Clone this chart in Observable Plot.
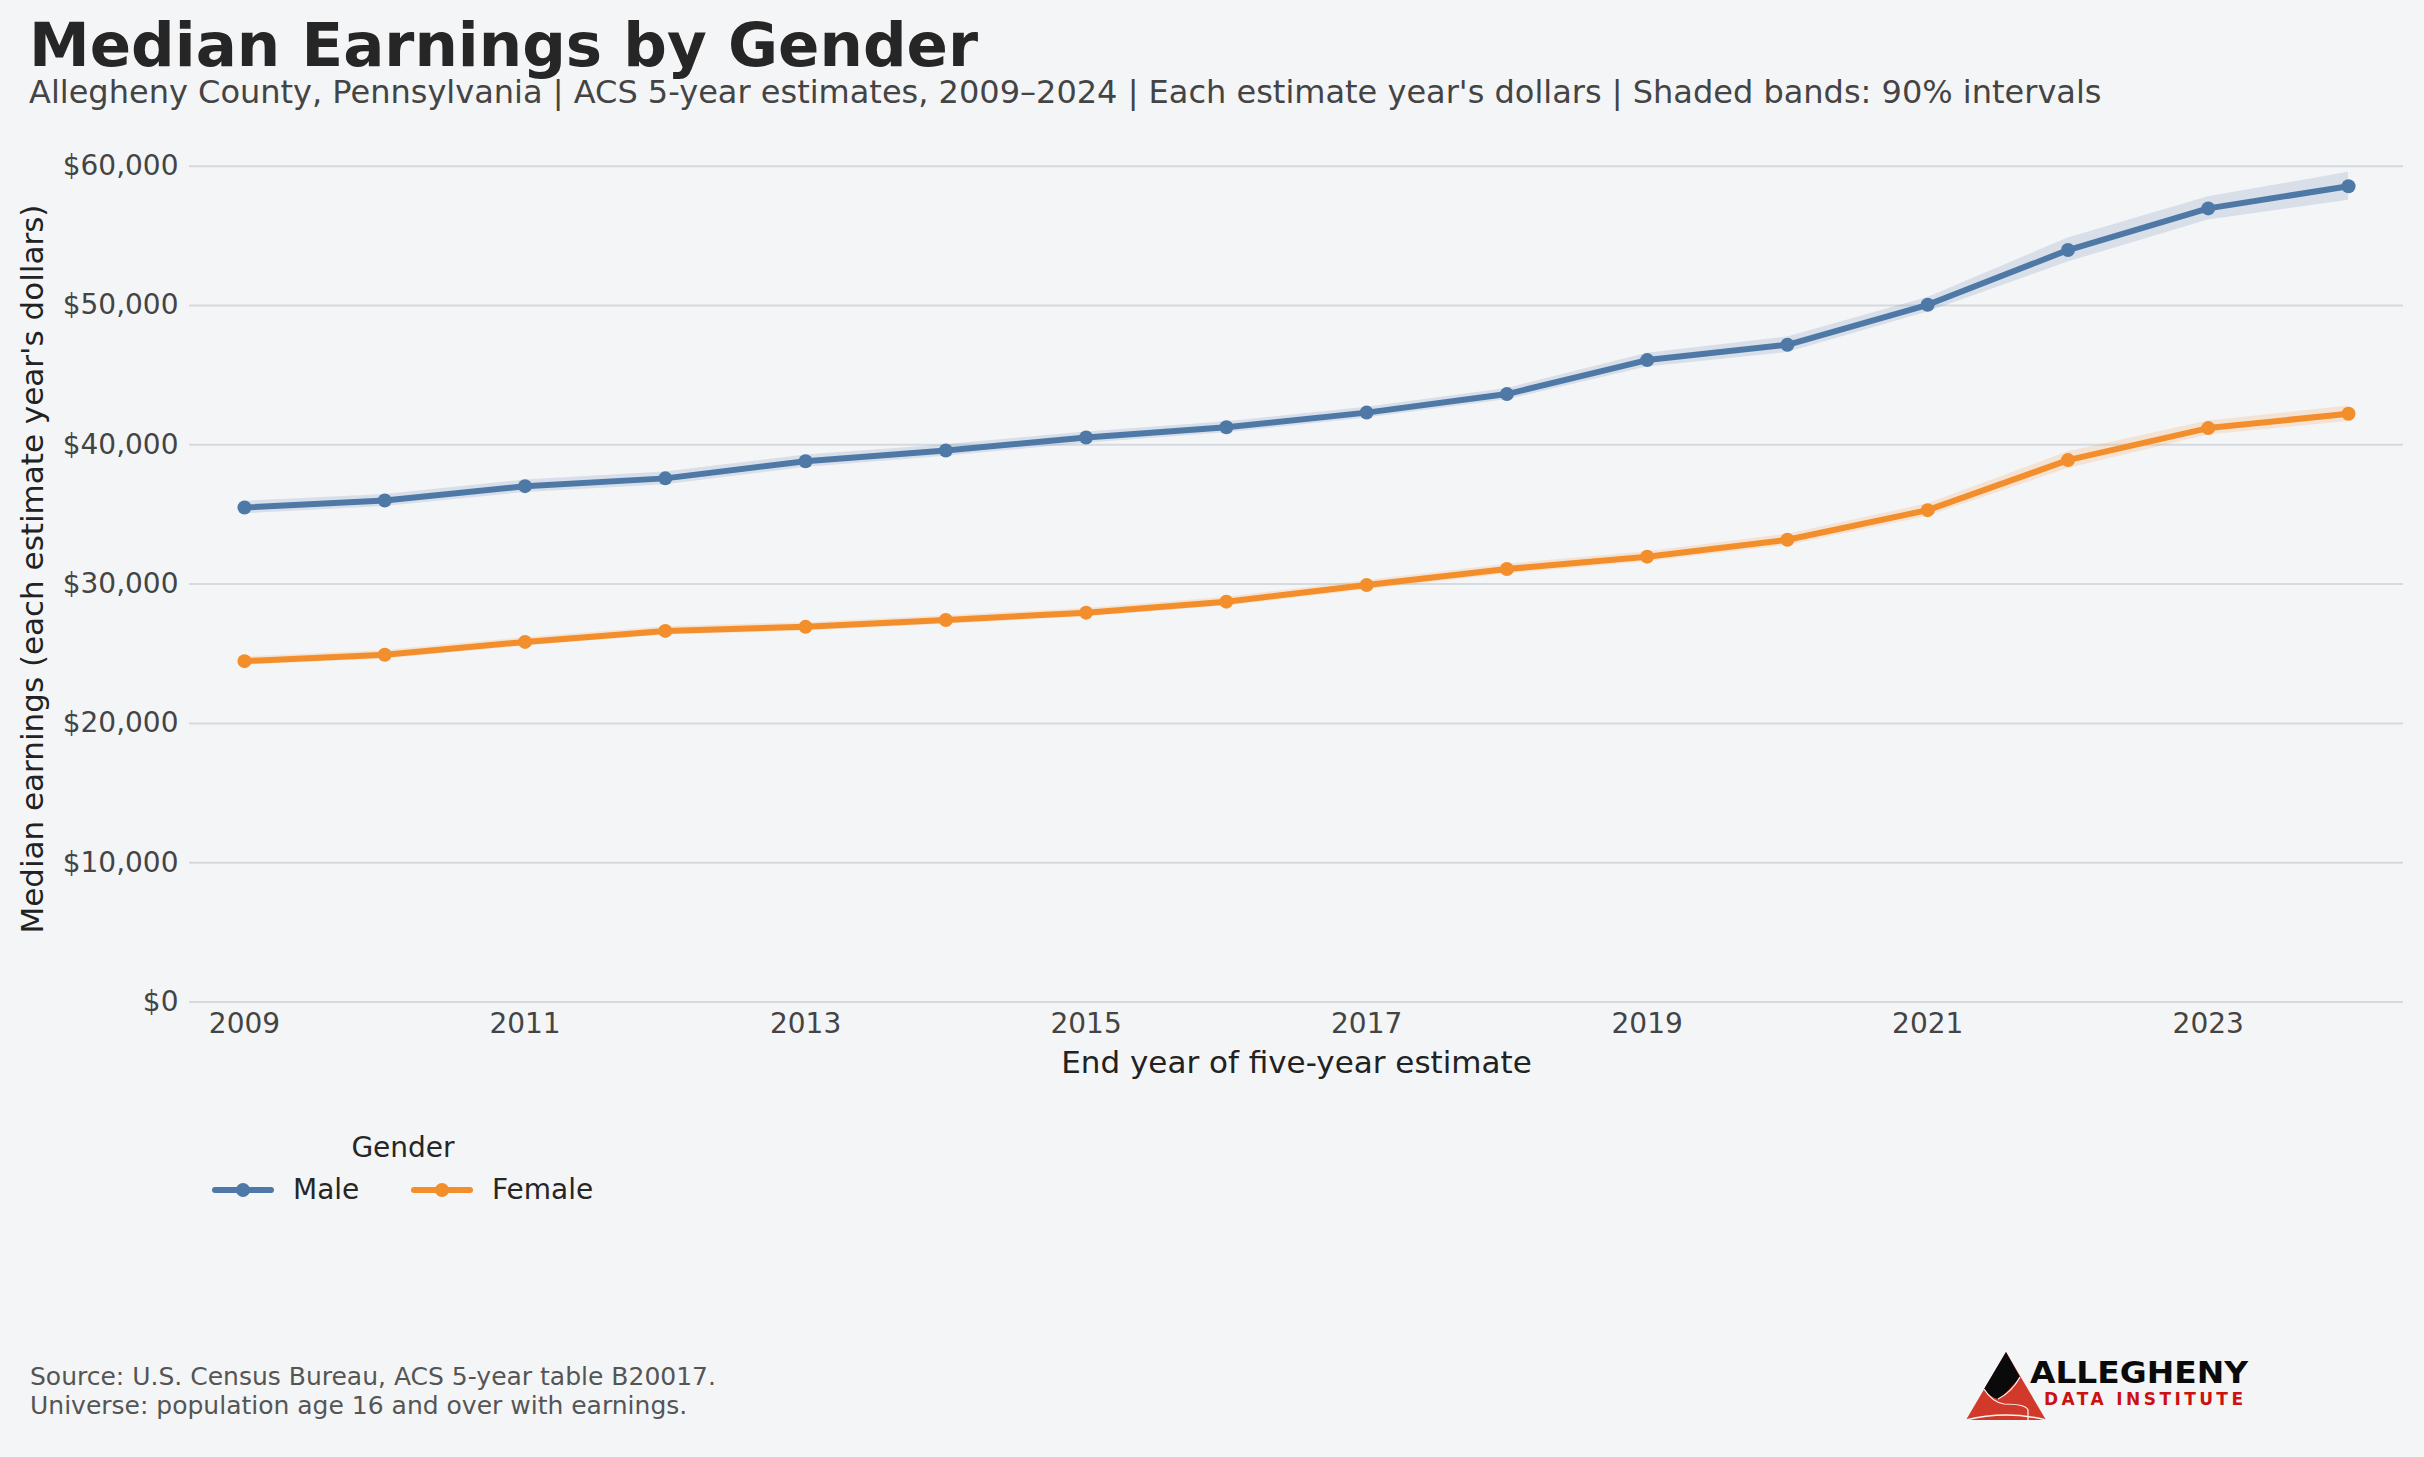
<!DOCTYPE html>
<html>
<head>
<meta charset="utf-8">
<script src="https://cdn.jsdelivr.net/npm/d3@7"></script>
<script src="https://cdn.jsdelivr.net/npm/@observablehq/plot@0.6"></script>
<style>
  html, body { margin: 0; padding: 0; background: #f4f5f7; }
  body { width: 2424px; height: 1457px; position: relative; overflow: hidden; font-family: "DejaVu Sans", sans-serif; }
  .abs { position: absolute; line-height: 1; white-space: nowrap; }
  #title { left: 29px; top: 14px; font-size: 61px; font-weight: bold; color: #262626; }
  #subtitle { left: 29px; top: 76px; font-size: 32px; color: #444; }
  #chart { position: absolute; left: 0; top: 130px; }
  #legend-title { left: 403px; top: 1134px; font-size: 28px; color: #262626; transform: translateX(-50%); }
  .leg { top: 1176px; font-size: 28px; color: #262626; }
  .sw { position: absolute; top: 1182px; }
  #caption { left: 30px; top: 1362px; font-size: 25px; color: #555; line-height: 29px; }
  #logo { position: absolute; left: 1960px; top: 1345px; }
</style>
</head>
<body>
<div id="title" class="abs">Median Earnings by Gender</div>
<div id="subtitle" class="abs">Allegheny County, Pennsylvania | ACS 5-year estimates, 2009–2024 | Each estimate year's dollars | Shaded bands: 90% intervals</div>
<div id="chart"></div>
<div id="legend"></div>
<div id="caption" class="abs">Source: U.S. Census Bureau, ACS 5-year table B20017.<br>Universe: population age 16 and over with earnings.</div>
<svg id="logo" width="300" height="80" viewBox="1960 1345 300 80">
  <polygon points="1966,1420 2006,1352 2046,1420" fill="#d13a2a"/>
  <path d="M2006,1352 L2020,1377 Q2005,1395 1998,1399 Q1990,1397 1984,1389 Z" fill="#0a0a0a"/>
  <path d="M1984,1389 Q1992,1402 2004,1404 Q2026,1404 2028,1410 L2028,1420" fill="none" stroke="#f4f5f7" stroke-width="1.2"/>
  <path d="M1998,1399 Q2012,1392 2020,1377" fill="none" stroke="#f4f5f7" stroke-width="1.2"/>
  <path d="M1966,1420 Q2006,1410 2046,1420" fill="none" stroke="#f4f5f7" stroke-width="1.5"/>
  <text x="2030" y="1383" font-family="DejaVu Sans" font-weight="bold" font-size="31" fill="#0a0a0a" textLength="218" lengthAdjust="spacingAndGlyphs">ALLEGHENY</text>
  <text x="2044" y="1405" font-family="DejaVu Sans" font-weight="bold" font-size="17" fill="#cc1111" textLength="199" lengthAdjust="spacing">DATA INSTITUTE</text>
</svg>
<script>
// ---- data ----
const years = [2009, 2010, 2011, 2012, 2013, 2014, 2015, 2016, 2017, 2018, 2019, 2020, 2021, 2022, 2023, 2024];
const maleMedian = [35500, 36000, 37030, 37590, 38820, 39590, 40520, 41260, 42310, 43640, 46080, 47180, 50050, 53980, 56970, 58560];
const maleMoe = [450, 430, 450, 450, 450, 420, 400, 400, 380, 410, 490, 560, 520, 860, 830, 1000];
const femaleMedian = [24470, 24930, 25850, 26640, 26930, 27420, 27950, 28740, 29930, 31080, 31970, 33180, 35310, 38900, 41200, 42230];
const femaleMoe = [300, 300, 300, 300, 300, 300, 300, 320, 330, 350, 360, 400, 450, 600, 500, 550];
const genders = ["Male", "Female"];
const colors = ["#4e79a7", "#f28e2b"];
const yTicks = [0, 10000, 20000, 30000, 40000, 50000, 60000];
const xTicks = [2009, 2011, 2013, 2015, 2017, 2019, 2021, 2023];
const yLabel = "Median earnings (each estimate year's dollars)";
const xLabel = "End year of five-year estimate";

const rows = [];
years.forEach((yr, i) => {
  rows.push({year: yr, gender: "Male", value: maleMedian[i], lo: maleMedian[i] - maleMoe[i], hi: maleMedian[i] + maleMoe[i]});
});
years.forEach((yr, i) => {
  rows.push({year: yr, gender: "Female", value: femaleMedian[i], lo: femaleMedian[i] - femaleMoe[i], hi: femaleMedian[i] + femaleMoe[i]});
});

const W = 2424, H = 1000;
const chart = Plot.plot({
  width: W,
  height: H,
  marginLeft: 189,
  marginRight: 21,
  marginTop: 35.7,
  marginBottom: 128.5,
  style: {background: "transparent", fontFamily: "DejaVu Sans", overflow: "visible"},
  x: {type: "linear", domain: [2008.608, 2024.392]},
  y: {domain: [0, 60000]},
  color: {domain: genders, range: colors},
  marks: [
    Plot.gridY(yTicks, {stroke: "#d5dae0", strokeOpacity: 1, strokeWidth: 2}),
    Plot.axisY(yTicks, {tickSize: 0, tickPadding: 11, fontSize: 28, fill: "#444", label: null,
      tickFormat: d => "$" + d3.format(",")(d)}),
    Plot.axisX(xTicks, {tickSize: 0, tickPadding: 11, fontSize: 28, fill: "#444", label: null,
      tickFormat: d => String(d)}),
    Plot.areaY(rows, {x: "year", y1: "lo", y2: "hi", z: "gender", fill: "gender", fillOpacity: 0.17}),
    Plot.line(rows, {x: "year", y: "value", z: "gender", stroke: "gender", strokeWidth: 6, strokeLinecap: "round", strokeLinejoin: "round"}),
    Plot.dot(rows, {x: "year", y: "value", fill: "gender", r: 7}),
    Plot.text([xLabel], {frameAnchor: "bottom", dy: 61, fontSize: 31, fill: "#222", lineAnchor: "middle", textAnchor: "middle"}),
    Plot.text([yLabel], {frameAnchor: "left", dx: -156, dy: -15, rotate: -90, fontSize: 31, fill: "#222", lineAnchor: "middle", textAnchor: "middle"})
  ]
});
document.getElementById("chart").appendChild(chart);

// legend (swatches)
const legend = document.getElementById("legend");
legend.innerHTML = `<div id="legend-title" class="abs">Gender</div>`;
const items = [
  {label: genders[0], color: colors[0], sx: 211, tx: 293},
  {label: genders[1], color: colors[1], sx: 410, tx: 492}
];
items.forEach(it => {
  legend.insertAdjacentHTML("beforeend",
    `<svg class="sw" style="left:${it.sx}px" width="64" height="16"><line x1="4" y1="8" x2="60" y2="8" stroke="${it.color}" stroke-width="6" stroke-linecap="round"/><circle cx="32" cy="8" r="7" fill="${it.color}"/></svg>` +
    `<div class="abs leg" style="left:${it.tx}px">${it.label}</div>`);
});
</script>
</body>
</html>
